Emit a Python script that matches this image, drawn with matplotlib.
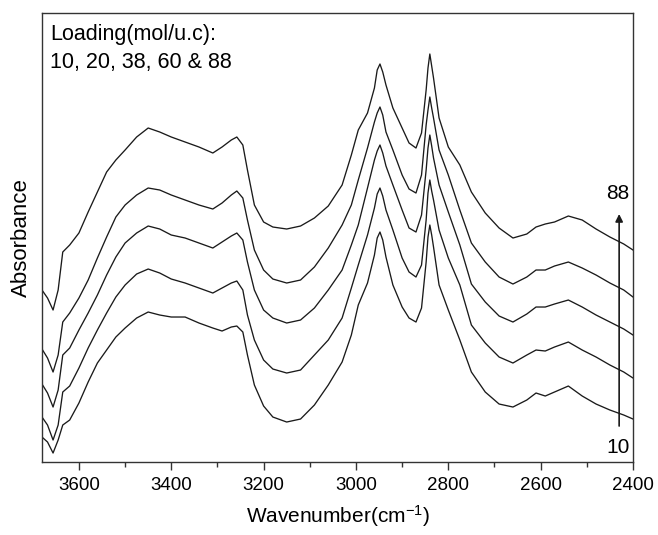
import matplotlib
matplotlib.use("Agg")
import matplotlib.pyplot as plt
from matplotlib.ticker import MultipleLocator

# wavenumber grid (cm-1) shared by all spectra
wavenumber = [
    3680, 3668, 3656, 3645, 3635, 3620, 3600, 3580, 3560, 3540,
    3520, 3500, 3475, 3450, 3425, 3400, 3370, 3340, 3310, 3290,
    3270, 3258, 3245, 3235, 3220, 3200, 3180, 3150, 3120, 3090,
    3060, 3030, 3010, 2995, 2975, 2960, 2954, 2948, 2942, 2935,
    2920, 2900, 2885, 2870, 2858, 2848, 2844, 2840, 2836, 2832,
    2820, 2800, 2775, 2750, 2720, 2690, 2660, 2630, 2610, 2590,
    2570, 2540, 2510, 2480, 2450, 2420, 2400,
]

# absorbance (arbitrary units, stacked), one spectrum per loading
abs_10 = [
    25, 20, 9, 22, 37, 42, 59, 80, 99, 112,
    125, 134, 144, 150, 147, 145, 145, 139, 134, 131,
    135, 136, 130, 107, 77, 56, 45, 40, 43, 57,
    77, 100, 127, 157, 179, 207, 224, 230, 222, 205,
    177, 155, 144, 140, 154, 200, 225, 237, 227, 215,
    177, 152, 122, 90, 70, 58, 55, 62, 69, 66,
    70, 76, 66, 58, 52, 47, 43,
]
abs_20 = [
    45, 37, 22, 37, 70, 76, 94, 114, 132, 149,
    165, 177, 188, 193, 189, 183, 179, 174, 169, 174,
    179, 181, 172, 147, 122, 102, 93, 89, 92, 107,
    122, 144, 174, 197, 227, 254, 268, 274, 266, 252,
    232, 204, 190, 185, 197, 242, 269, 282, 271, 262,
    232, 204, 177, 137, 119, 105, 99, 107, 112, 111,
    115, 120, 112, 105, 97, 90, 84,
]
abs_38 = [
    78, 69, 55, 72, 107, 114, 132, 149, 167, 187,
    205, 219, 229, 236, 233, 227, 224, 219, 214, 220,
    226, 229, 222, 200, 172, 152, 144, 139, 142, 154,
    172, 192, 217, 237, 274, 302, 311, 317, 309, 296,
    277, 252, 234, 230, 247, 292, 314, 327, 316, 304,
    277, 250, 217, 178, 160, 146, 140, 148, 155, 155,
    158, 162, 155, 147, 140, 133, 127,
]
abs_60 = [
    113, 104, 90, 107, 140, 149, 164, 182, 204, 225,
    245, 257, 267, 274, 272, 267, 262, 257, 253, 259,
    267, 271, 264, 242, 212, 192, 183, 179, 182, 195,
    214, 237, 257, 282, 314, 340, 349, 355, 347, 330,
    312, 287, 273, 269, 287, 337, 352, 365, 354, 344,
    312, 287, 252, 219, 200, 185, 178, 185, 192, 192,
    196, 200, 194, 187, 179, 172, 165,
]
abs_88 = [
    172, 164, 152, 172, 210, 217, 229, 250, 270, 290,
    302, 312, 325, 334, 330, 325, 320, 315, 309, 315,
    322, 325, 317, 292, 257, 240, 235, 233, 236, 244,
    256, 277, 307, 332, 349, 374, 392, 398, 390, 377,
    354, 334, 319, 314, 329, 372, 394, 408, 396, 384,
    344, 315, 297, 270, 249, 234, 224, 228, 235, 238,
    240, 246, 242, 233, 225, 218, 212,
]

spectra = [abs_10, abs_20, abs_38, abs_60, abs_88]

plt.rcParams.update({
    "font.family": ["Liberation Sans", "DejaVu Sans"],
    "mathtext.default": "regular",
})

fig = plt.figure(figsize=(6.58, 5.35), dpi=100)
ax = fig.add_axes([0.0638, 0.1364, 0.8982, 0.8393])

for y in spectra:
    ax.plot(wavenumber, y, color="#1a1a1a", lw=0.95)

ax.set_xlim(3680, 2400)
ax.set_ylim(0, 449)

ax.xaxis.set_major_locator(MultipleLocator(200))
ax.xaxis.set_minor_locator(MultipleLocator(100))
ax.tick_params(axis="x", which="major", direction="out", length=6, width=1.0,
               pad=5, labelsize=13.5, color="#333333")
ax.tick_params(axis="x", which="minor", direction="out", length=3.5, width=1.0,
               color="#333333")
ax.set_yticks([])
for s in ax.spines.values():
    s.set_color("#333333")
    s.set_linewidth(1.0)

ax.set_xlabel("Wavenumber(cm$^{-1}$)", fontsize=15, labelpad=6)
ax.set_ylabel("Absorbance", fontsize=16, labelpad=7)

ax.text(0.0135, 0.940, "Loading(mol/u.c):", transform=ax.transAxes,
        fontsize=15.5, va="baseline", ha="left")
ax.text(0.0135, 0.878, "10, 20, 38, 60 & 88", transform=ax.transAxes,
        fontsize=15.5, va="baseline", ha="left")

# loading arrow
ax.annotate("", xy=(2430, 248), xytext=(2430, 36),
            arrowprops=dict(arrowstyle="-|>", color="#1a1a1a", lw=1.2,
                            mutation_scale=11, shrinkA=0, shrinkB=0))
ax.text(2433, 269, "88", fontsize=15, ha="center", va="center")
ax.text(2433, 15, "10", fontsize=15, ha="center", va="center")

fig.savefig("out.png", dpi=100)
